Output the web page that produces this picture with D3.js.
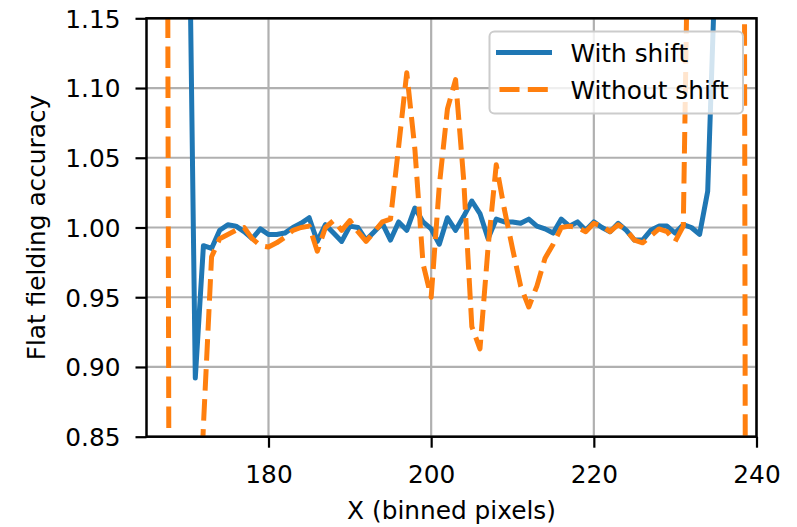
<!DOCTYPE html>
<html>
<head>
<meta charset="utf-8">
<script src="https://cdn.jsdelivr.net/npm/d3@7"></script>
<style>
  html, body { margin: 0; padding: 0; background: #fff; }
  svg { display: block; }
  text { font-family: "DejaVu Sans", sans-serif; fill: #000; }
</style>
</head>
<body>
<svg id="chart" width="797" height="527"></svg>
<script>
// ---- data ----
const xWith = [170,171,172,173,174,175,176,177,178,179,180,181,182,183,184,185,186,187,188,189,
  190,191,192,193,194,195,196,197,198,199,200,201,202,203,204,205,206,207,208,209,
  210,211,212,213,214,215,216,217,218,219,220,221,222,223,224,225,226,227,228,229,
  230,231,232,233,234,235];
const withShift = [1.34,0.892,0.987,0.985,0.998,1.002,1.001,0.997,0.992,0.999,0.995,0.995,0.996,1.000,1.003,1.007,0.990,1.002,0.996,0.990,
  1.001,1.000,0.991,0.997,1.003,0.991,1.004,0.998,1.014,1.004,0.999,0.988,1.007,0.998,1.008,1.019,1.010,0.992,1.006,1.004,
  1.004,1.003,1.006,1.001,0.999,0.996,1.006,1.001,1.004,0.998,1.004,1.000,0.997,1.003,0.998,0.991,0.991,0.998,1.001,1.001,
  0.996,1.002,1.000,0.995,1.026,1.20];

const xWithout = [167,168,169,170,171,172,173,174,175,176,177,178,179,180,181,182,183,184,185,186,187,188,189,
  190,191,192,193,194,195,196,197,198,199,200,201,202,203,204,205,206,207,208,209,
  210,211,212,213,214,215,216,217,218,219,220,221,222,223,224,225,226,227,228,229,
  230,231,232,233,234,235,236,237,238,239];
const withoutShift = [2.7,0.2,0.45,0.6,0.72,0.858,0.979,0.992,0.995,0.998,1.000,0.992,0.987,0.986,0.989,0.993,0.998,1.000,1.001,0.983,1.000,1.005,0.998,
  1.005,0.997,0.990,0.997,1.004,1.006,1.058,1.111,1.056,0.974,0.950,1.030,1.085,1.106,1.034,0.929,0.913,0.986,1.045,1.013,
  0.985,0.958,0.943,0.958,0.978,0.988,1.000,1.001,1.000,0.997,1.003,1.001,0.997,1.002,0.998,0.991,0.989,0.994,0.999,0.997,
  0.990,1.001,1.38,1.7,2.1,2.5,2.8,3.0,3.0,-0.5];

const xTicks = [180, 200, 220, 240];
const yTicks = [0.85, 0.90, 0.95, 1.00, 1.05, 1.10, 1.15];
const seriesNames = ["With shift", "Without shift"];
const seriesColors = ["#1f77b4", "#ff7f0e"];
const xLabel = "X (binned pixels)";
const yLabel = "Flat fielding accuracy";

// ---- layout ----
const L = 146.5, R = 756.5, T = 18.3, B = 436.7;
const FS = 24.8;
const svg = d3.select("#chart");

const x = d3.scaleLinear().domain([165, 240]).range([L, R]);
const y = d3.scaleLinear().domain([0.85, 1.15]).range([B, T]);

svg.append("defs").append("clipPath").attr("id", "clip")
  .append("rect").attr("x", L).attr("y", T).attr("width", R - L).attr("height", B - T);

// grid
const grid = svg.append("g");
grid.selectAll("line.gx").data(xTicks).join("line")
  .attr("x1", d => x(d)).attr("x2", d => x(d)).attr("y1", T).attr("y2", B)
  .attr("stroke", "#b0b0b0").attr("stroke-width", 2.2);
grid.selectAll("line.gy").data(yTicks).join("line")
  .attr("y1", d => y(d)).attr("y2", d => y(d)).attr("x1", L).attr("x2", R)
  .attr("stroke", "#b0b0b0").attr("stroke-width", 2.2);

// lines
const line = d3.line().x(d => x(d[0])).y(d => y(d[1]));
const plot = svg.append("g").attr("clip-path", "url(#clip)");
plot.append("path")
  .datum(xWith.map((d, i) => [d, withShift[i]]))
  .attr("d", line).attr("fill", "none")
  .attr("stroke", seriesColors[0]).attr("stroke-width", 5)
  .attr("stroke-linejoin", "round");
plot.append("path")
  .datum(xWithout.map((d, i) => [d, withoutShift[i]]))
  .attr("d", line).attr("fill", "none")
  .attr("stroke", seriesColors[1]).attr("stroke-width", 5)
  .attr("stroke-dasharray", "21.5,8.5")
  .attr("stroke-linejoin", "round");

// axes
const xAxis = d3.axisBottom(x).tickValues(xTicks).tickSize(11).tickPadding(6).tickFormat(d3.format("d"));
const yAxis = d3.axisLeft(y).tickValues(yTicks).tickSize(11).tickPadding(15).tickFormat(d3.format(".2f"));

const gx = svg.append("g").attr("transform", `translate(0,${B})`).call(xAxis);
const gy = svg.append("g").attr("transform", `translate(${L},0)`).call(yAxis);
[gx, gy].forEach(g => {
  g.select(".domain").remove();
  g.selectAll(".tick line").attr("stroke", "#000").attr("stroke-width", 2.2);
  g.selectAll(".tick text").attr("font-size", FS).attr("font-family", "DejaVu Sans").attr("fill", "#000");
});
gx.selectAll(".tick text").attr("dy", null).attr("y", 46);
gy.selectAll(".tick text").attr("dy", "0.36em");

// spines
svg.append("rect").attr("x", L).attr("y", T).attr("width", R - L).attr("height", B - T)
  .attr("fill", "none").attr("stroke", "#000").attr("stroke-width", 2.5);

// axis labels
svg.append("text").attr("x", (L + R) / 2).attr("y", 519)
  .attr("text-anchor", "middle").attr("font-size", FS).text(xLabel);
svg.append("text").attr("transform", `translate(45,${(T + B) / 2}) rotate(-90)`)
  .attr("text-anchor", "middle").attr("font-size", FS).text(yLabel);

// legend
const lg = svg.append("g");
lg.append("rect").attr("x", 489.5).attr("y", 31.5).attr("width", 253.5).attr("height", 82)
  .attr("rx", 5).attr("ry", 5)
  .attr("fill", "#fff").attr("fill-opacity", 0.8)
  .attr("stroke", "#cccccc").attr("stroke-width", 2);
const rows = [52.5, 89.5];
seriesNames.forEach((name, i) => {
  const yy = rows[i];
  const ln = lg.append("line").attr("x1", i === 0 ? 496 : 499.5).attr("x2", i === 0 ? 552 : 548.5)
    .attr("y1", yy).attr("y2", yy)
    .attr("stroke", seriesColors[i]).attr("stroke-width", 5);
  if (i === 1) ln.attr("stroke-dasharray", "20,8.3");
  lg.append("text").attr("x", 570.5).attr("y", yy + 9.2).attr("font-size", FS).text(name);
});
</script>
</body>
</html>
